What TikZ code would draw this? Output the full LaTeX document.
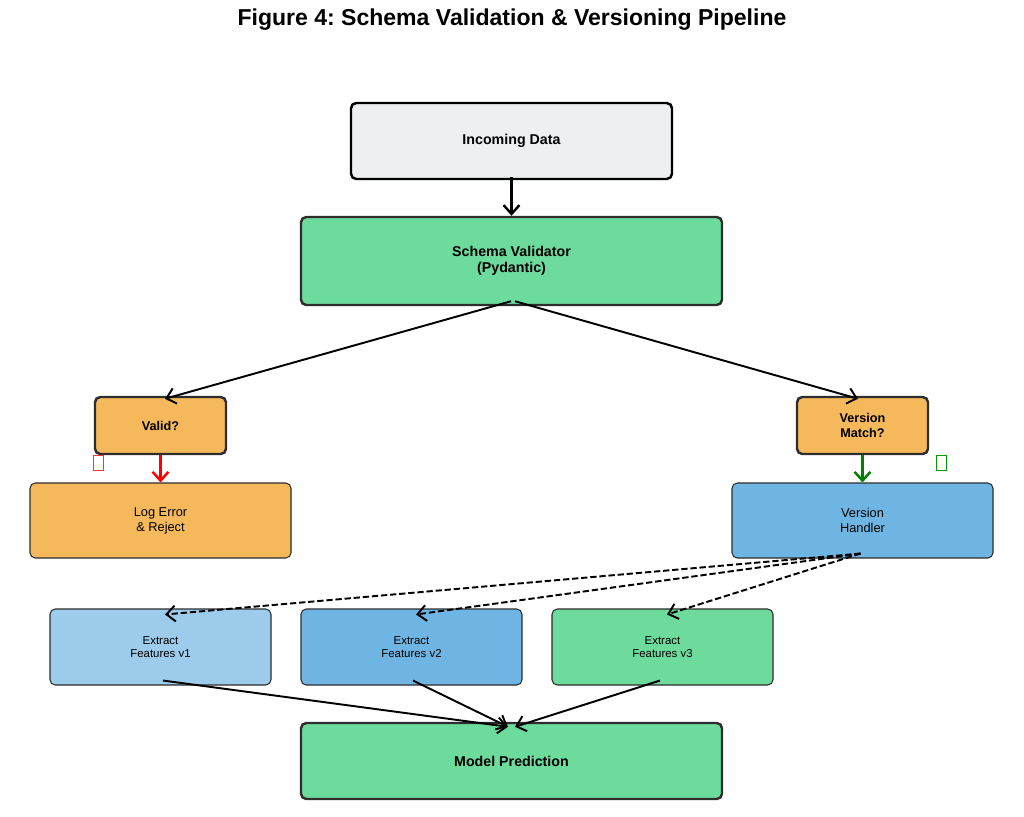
\documentclass[tikz,border=0pt]{standalone}
\usepackage{fontspec}
\setmainfont{Liberation Sans}
\usetikzlibrary{positioning,arrows.meta,calc}
\definecolor{boxgray}{HTML}{ECF0F1}
\definecolor{boxgreen}{HTML}{6CDB9C}
\definecolor{boxorange}{HTML}{F5B95B}
\definecolor{boxblue}{HTML}{6FB5E3}
\definecolor{boxlight}{HTML}{9DCBEC}
\definecolor{edgedark}{HTML}{2D2D2D}
\frenchspacing

\begin{document}
\begin{tikzpicture}[x=0.02cm, y=-0.02cm,
  box/.style={draw=edgedark, rounded corners=3pt, align=center, inner sep=0pt},
  mainbox/.style={box, line width=1.4pt, font=\fontsize{8.1}{9.1}\selectfont\bfseries},
  smallbox/.style={box, line width=0.6pt, font=\fontsize{7.3}{8.5}\selectfont},
  featbox/.style={box, line width=0.6pt, minimum width=221*0.02cm, minimum height=76*0.02cm,
    font=\fontsize{6.5}{7.4}\selectfont},
  flow/.style={line width=1.1pt, -{Straight Barb[length=5pt,width=9pt]}},
  dashflow/.style={flow, dash pattern=on 3.6pt off 1.6pt},
  tofu/.style={draw, line width=0.5pt, minimum width=10*0.02cm, minimum height=15*0.02cm, inner sep=0pt}]
  \useasboundingbox (0,0) rectangle (1024,816);

  % Titulo
  \node[font=\fontsize{13.1}{14}\selectfont\bfseries] (title) at (512,20)
    {Figure 4: Schema Validation \& Versioning Pipeline};

  % Entrada y validador
  \node[mainbox, draw=black, fill=boxgray, minimum width=321*0.02cm, minimum height=76*0.02cm]
    (incoming) at (511.5,141) {Incoming Data};
  \node[mainbox, fill=boxgreen, minimum width=421*0.02cm, minimum height=88*0.02cm]
    (validator) at (511.5,261) {Schema Validator\\(Pydantic)};

  % Decisiones
  \node[mainbox, fill=boxorange, minimum width=131*0.02cm, minimum height=57*0.02cm,
    font=\fontsize{7.2}{8.4}\selectfont\bfseries] (valid) at (160.5,425.5) {Valid?};
  \node[mainbox, fill=boxorange, minimum width=131*0.02cm, minimum height=57*0.02cm,
    font=\fontsize{7.2}{8.4}\selectfont\bfseries] (match) at (862.5,425.5) {Version\\Match?};

  % Marcas (glifos sin fuente)
  \node[tofu, draw=red!80] (nomark) at (98,463) {};
  \node[tofu, draw=green!60!black] (okmark) at (941,463) {};

  % Resultados
  \node[smallbox, fill=boxorange, minimum width=261*0.02cm, minimum height=75*0.02cm]
    (reject) at (160.5,520.5) {Log Error\\\& Reject};
  \node[smallbox, fill=boxblue, minimum width=261*0.02cm, minimum height=75*0.02cm]
    (handler) at (862.5,520.5) {Version\\Handler};

  % Extractores
  \node[featbox, fill=boxlight] (feat1) at (160.5,647) {Extract\\Features v1};
  \node[featbox, fill=boxblue]  (feat2) at (411.5,647) {Extract\\Features v2};
  \node[featbox, fill=boxgreen] (feat3) at (662.5,647) {Extract\\Features v3};

  % Prediccion
  \node[mainbox, fill=boxgreen, minimum width=421*0.02cm, minimum height=76*0.02cm]
    (predict) at (511.5,761) {Model Prediction};

  % Flechas
  \draw[flow, line width=1.4pt] ($(incoming.south)+(0,-3)$) -- (validator.north);
  \draw[flow] ($(validator.south)+(-0.5,-5)$) -- ($(valid.north)+(4.5,3)$);
  \draw[flow] ($(validator.south)+(3.5,-5)$) -- ($(match.north)+(-4.5,3)$);
  \draw[flow, line width=1.4pt, red] (valid) -- (reject);
  \draw[flow, line width=1.4pt, green!50!black] (match) -- (handler);
  \foreach \f in {feat1, feat2, feat3}{
    \draw[dashflow] ($(handler.south)+(-2,-5)$) -- ($(\f.north)+(4.5,6)$);
  }
  \draw[flow] ($(feat1.south)+(2.5,-5)$) -- ($(predict.north)+(-3.5,5)$);
  \draw[flow] ($(feat2.south)+(1.5,-5)$) -- ($(predict.north)+(-3.5,5)$);
  \draw[flow] ($(feat3.south)+(-2.5,-5)$) -- ($(predict.north)+(3.5,5)$);
\end{tikzpicture}
\end{document}
